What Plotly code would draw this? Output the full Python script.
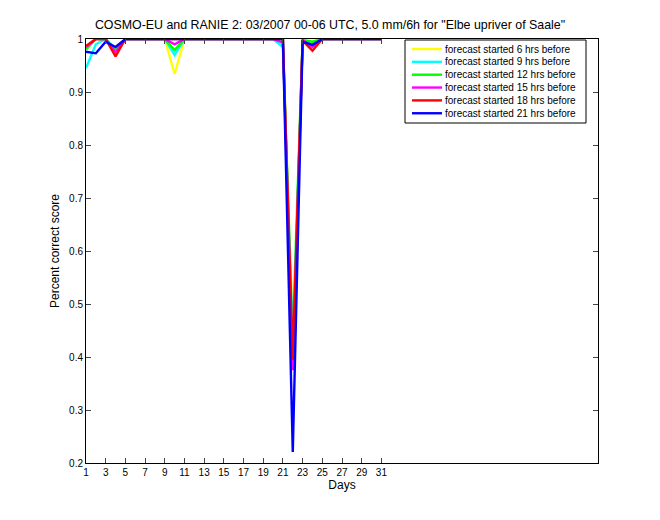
import plotly.graph_objects as go

days = list(range(1, 32))

series_names = [
    "forecast started 6 hrs before",
    "forecast started 9 hrs before",
    "forecast started 12 hrs before",
    "forecast started 15 hrs before",
    "forecast started 18 hrs before",
    "forecast started 21 hrs before",
]
series_colors = ["#ffff00", "#00ffff", "#00ff00", "#ff00ff", "#ff0000", "#0000ff"]

def base():
    return [1.0] * 31

# values (index = day-1)
yellow = base()
yellow[0] = 0.985; yellow[3] = 0.98; yellow[9] = 0.934; yellow[20] = 0.99
yellow[21] = 0.45; yellow[22] = 0.998; yellow[23] = 0.995

cyan = base()
cyan[0] = 0.945; cyan[1] = 0.99; cyan[3] = 0.98; cyan[9] = 0.97; cyan[20] = 0.985
cyan[21] = 0.436; cyan[22] = 0.997; cyan[23] = 0.99

green = base()
green[0] = 0.98; green[3] = 0.977; green[9] = 0.979
green[21] = 0.40; green[22] = 0.998; green[23] = 0.995

magenta = base()
magenta[0] = 0.985; magenta[3] = 0.975; magenta[9] = 0.99; magenta[20] = 0.993
magenta[21] = 0.375; magenta[22] = 0.998; magenta[23] = 0.985

red = base()
red[0] = 0.987; red[3] = 0.967
red[21] = 0.395; red[22] = 0.997; red[23] = 0.978

blue = base()
blue[0] = 0.976; blue[1] = 0.973; blue[2] = 0.995; blue[3] = 0.985
blue[21] = 0.221; blue[22] = 0.995; blue[23] = 0.989

series_values = [yellow, cyan, green, magenta, red, blue]

x_ticks = list(range(1, 32, 2))
y_ticks = [0.2, 0.3, 0.4, 0.5, 0.6, 0.7, 0.8, 0.9, 1.0]
y_tick_labels = ["0.2", "0.3", "0.4", "0.5", "0.6", "0.7", "0.8", "0.9", "1"]

fig = go.Figure()
for name, color, vals in zip(series_names, series_colors, series_values):
    fig.add_trace(go.Scatter(x=days, y=vals, mode="lines", name=name,
                             line=dict(color=color, width=2.4), showlegend=False))

# plot area in pixels (for placing the hand-built legend box)
PL, PR, PT, PB = 86, 598, 39, 463
def px(xp):
    return (xp - PL) / (PR - PL)
def py(yp):
    return (PB - yp) / (PB - PT)

font_family = "Liberation Sans, Arial, sans-serif"

shapes = [dict(type="rect", xref="paper", yref="paper",
               x0=px(405), x1=px(586), y0=py(123), y1=py(40),
               line=dict(color="black", width=1), fillcolor="white", layer="above")]
annotations = []
for i, (name, color) in enumerate(zip(series_names, series_colors)):
    yy = 49 + 12.85 * i
    shapes.append(dict(type="line", xref="paper", yref="paper",
                       x0=px(412), x1=px(442), y0=py(yy), y1=py(yy),
                       line=dict(color=color, width=2.4), layer="above"))
    annotations.append(dict(text=name, xref="paper", yref="paper",
                            x=px(443), y=py(yy), xanchor="left", yanchor="middle",
                            showarrow=False, font=dict(size=10, family=font_family, color="black")))

fig.update_layout(
    width=660, height=520,
    paper_bgcolor="white", plot_bgcolor="white",
    margin=dict(l=PL, r=660 - PR, t=PT, b=520 - PB),
    font=dict(family=font_family, size=10, color="black"),
    title=dict(text='COSMO-EU and RANIE 2: 03/2007 00-06 UTC, 5.0 mm/6h for "Elbe upriver of Saale"',
               x=0.5, xanchor="center", y=1 - 25/520, yanchor="middle",
               font=dict(size=12.4, family=font_family)),
    xaxis=dict(range=[1, 53], tickvals=x_ticks, ticks="inside", ticklen=5,
               showline=True, linecolor="black", linewidth=1, mirror="ticks",
               showgrid=False, zeroline=False,
               title=dict(text="Days", font=dict(size=12), standoff=3)),
    yaxis=dict(range=[0.2, 1.0], tickvals=y_ticks, ticktext=y_tick_labels,
               ticks="inside", ticklen=5,
               showline=True, linecolor="black", linewidth=1, mirror="ticks",
               showgrid=False, zeroline=False,
               title=dict(text="Percent correct score", font=dict(size=12), standoff=6)),
    shapes=shapes,
    annotations=annotations,
    showlegend=False,
)

fig.write_html("out.html")
